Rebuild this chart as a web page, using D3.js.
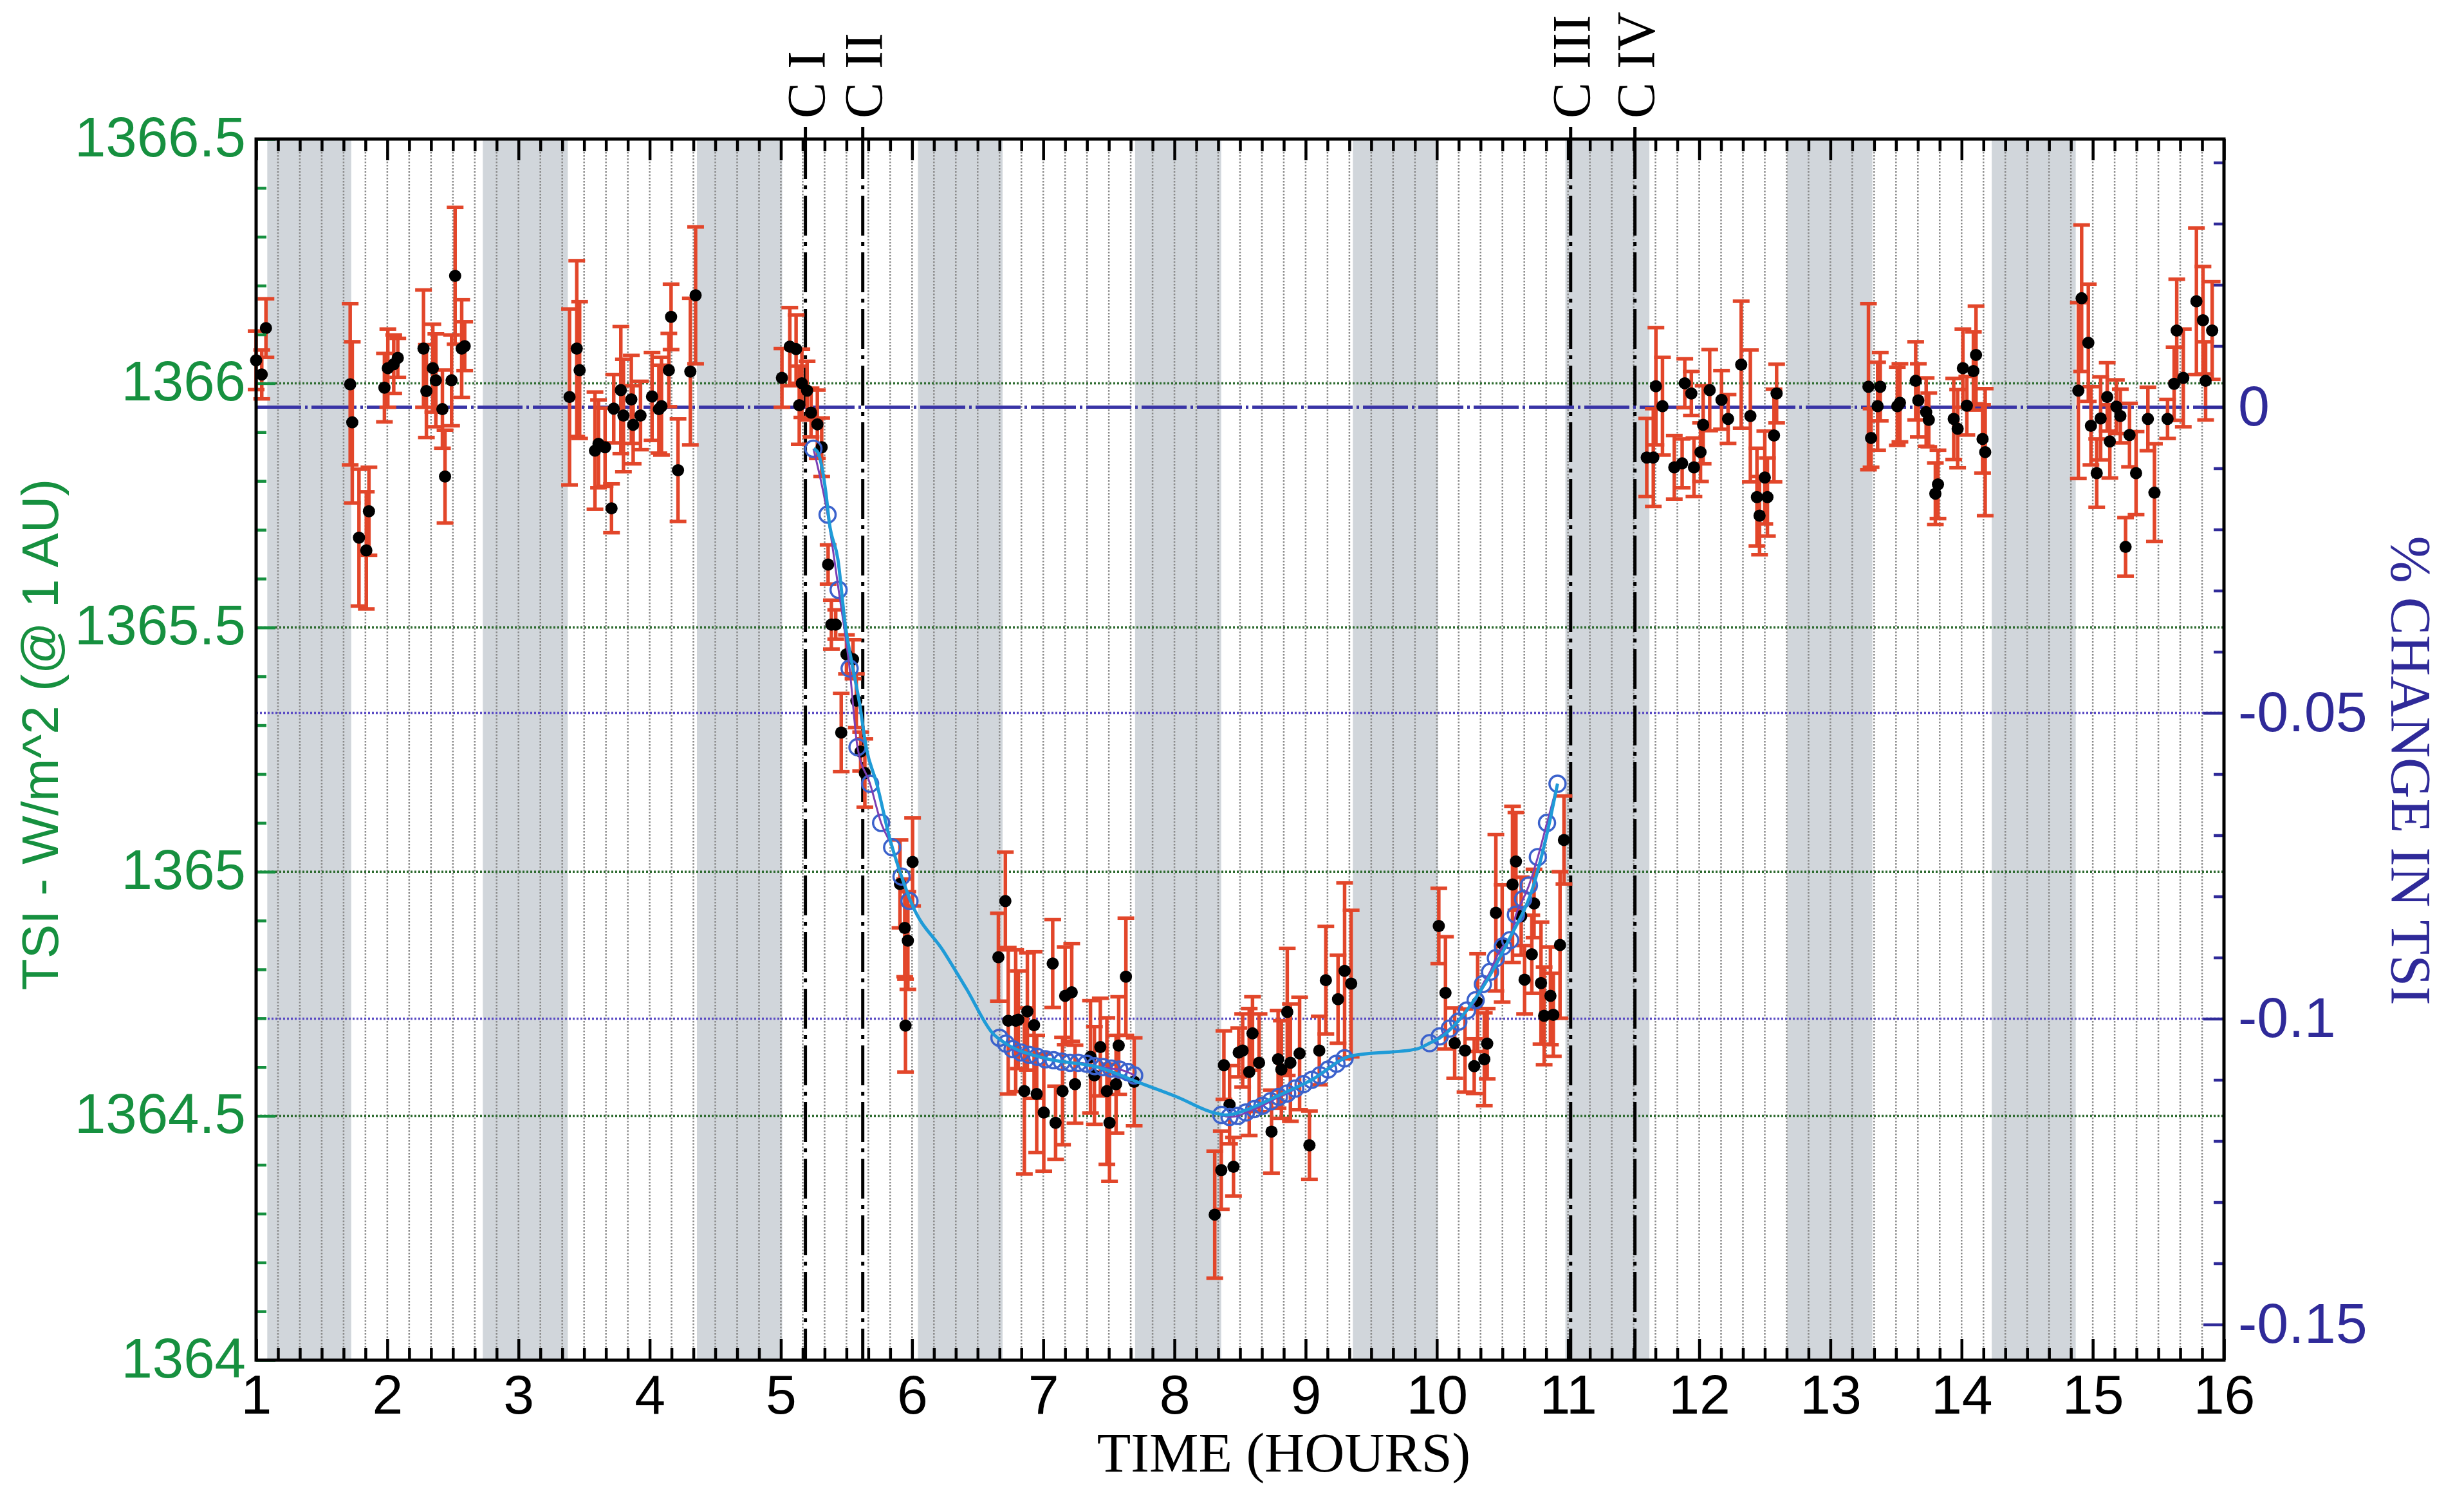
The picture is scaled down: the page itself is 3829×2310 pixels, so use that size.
<!DOCTYPE html>
<html><head><meta charset="utf-8">
<script src="https://cdn.jsdelivr.net/npm/d3@7"></script>
<style>html,body{margin:0;padding:0;background:#fff}</style>
</head><body>
<svg id="chart" width="3829" height="2310"></svg>
<script>
// ---------------- DATA ----------------
const obsHours = [
  1.00,1.043,1.075,
  1.717,1.733,1.784,1.84,1.86,1.978,2.004,2.049,2.08,2.276,2.298,2.347,2.37,2.42,2.44,2.49,2.517,2.567,2.59,
  3.389,3.444,3.466,3.583,3.61,3.66,3.709,3.726,3.78,3.80,3.86,3.874,3.93,4.018,4.07,4.09,4.146,4.163,4.216,4.31,4.35,
  5.008,5.068,5.116,5.14,5.16,5.20,5.23,5.278,5.311,
  5.36,5.385,5.418,5.46,5.50,5.55,5.575,5.608,5.64,5.908,5.944,5.95,5.968,6.004,
  6.658,6.711,6.733,6.79,6.81,6.856,6.879,6.93,6.95,7.004,7.072,7.094,7.147,7.167,7.217,7.242,7.36,7.39,7.435,7.485,7.505,7.555,7.575,7.63,7.693,
  8.307,8.357,8.377,8.42,8.45,8.49,8.52,8.57,8.595,8.645,8.74,8.79,8.815,8.86,8.884,8.954,9.029,9.104,9.154,9.247,9.297,9.347,
  10.015,10.066,10.136,10.215,10.285,10.311,10.362,10.384,10.45,10.498,10.577,10.603,10.643,10.669,10.724,10.741,10.794,10.818,10.866,10.888,10.939,10.969,
  11.6,11.65,11.67,11.72,11.81,11.87,11.89,11.94,11.96,12.01,12.03,12.08,12.17,12.22,12.32,12.39,12.44,12.46,12.50,12.52,12.57,12.59,
  13.29,13.31,13.36,13.38,13.51,13.53,13.65,13.67,13.73,13.75,13.80,13.82,13.94,13.97,14.01,14.04,14.09,14.11,14.16,14.18,
  14.89,14.915,14.966,14.986,15.03,15.06,15.11,15.13,15.18,15.21,15.25,15.28,15.33,15.42,15.47,15.57,15.62,15.64,15.69,15.79,15.84,15.86,15.91
];
const obsTSI = [
  1366.047,1366.018,1366.113,
  1365.998,1365.92,1365.684,1365.658,1365.738,1365.991,1366.031,1366.039,1366.052,1366.071,1365.984,1366.031,1366.006,1365.947,1365.809,1366.006,1366.22,1366.071,1366.076,
  1365.972,1366.071,1366.027,1365.862,1365.876,1365.869,1365.744,1365.948,1365.986,1365.934,1365.967,1365.915,1365.934,1365.973,1365.947,1365.953,1366.027,1366.136,1365.822,1366.024,1366.18,
  1366.011,1366.075,1366.07,1365.955,1366.0,1365.985,1365.94,1365.916,1365.869,
  1365.629,1365.506,1365.506,1365.285,1365.445,1365.435,1365.35,1365.246,1365.202,1364.975,1364.885,1364.685,1364.859,1365.02,
  1364.825,1364.94,1364.695,1364.695,1364.697,1364.551,1364.714,1364.686,1364.545,1364.507,1364.812,1364.486,1364.551,1364.746,1364.753,1364.565,1364.621,1364.583,1364.641,1364.551,1364.486,1364.565,1364.644,1364.785,1364.57,
  1364.298,1364.389,1364.604,1364.523,1364.396,1364.63,1364.634,1364.59,1364.669,1364.609,1364.468,1364.616,1364.595,1364.713,1364.609,1364.628,1364.44,1364.634,1364.778,1364.739,1364.797,1364.771,
  1364.889,1364.752,1364.649,1364.634,1364.602,1364.732,1364.616,1364.648,1364.916,1364.853,1364.974,1365.021,1364.909,1364.779,1364.831,1364.935,1364.772,1364.705,1364.746,1364.707,1364.85,1365.065,
  1365.848,1365.848,1365.994,1365.953,1365.828,1365.836,1366.0,1365.979,1365.828,1365.859,1365.915,1365.986,1365.966,1365.927,1366.038,1365.933,1365.767,1365.729,1365.807,1365.767,1365.893,1365.979,
  1365.993,1365.888,1365.953,1365.993,1365.953,1365.96,1366.005,1365.965,1365.941,1365.925,1365.774,1365.793,1365.927,1365.907,1366.031,1365.954,1366.025,1366.058,1365.886,1365.859,
  1365.985,1366.174,1366.083,1365.913,1365.816,1365.928,1365.972,1365.881,1365.952,1365.933,1365.665,1365.894,1365.816,1365.927,1365.776,1365.927,1365.999,1366.108,1366.011,1366.168,1366.129,1366.005,1366.108
];
const obsErr = [
  0.06,0.05,0.06,
  0.165,0.165,0.14,0.12,0.09,0.07,0.08,0.06,0.04,0.12,0.095,0.09,0.095,0.08,0.095,0.093,0.14,0.1,0.05,
  0.18,0.18,0.14,0.12,0.09,0.08,0.05,0.07,0.13,0.115,0.09,0.08,0.07,0.09,0.09,0.1,0.075,0.067,0.105,0.15,0.14,
  0.06,0.08,0.07,0.08,0.07,0.06,0.05,0.07,0.06,
  0.04,0.05,0.03,0.08,0.04,0.04,0.055,0.04,0.07,0.09,0.1,0.095,0.1,0.09,
  0.09,0.1,0.15,0.145,0.1,0.17,0.12,0.15,0.12,0.12,0.09,0.075,0.11,0.1,0.1,0.08,0.115,0.1,0.1,0.15,0.12,0.1,0.1,0.12,0.09,
  0.13,0.08,0.07,0.08,0.06,0.05,0.075,0.13,0.075,0.1,0.085,0.1,0.1,0.13,0.12,0.115,0.07,0.07,0.11,0.09,0.18,0.15,
  0.077,0.115,0.072,0.085,0.056,0.1,0.095,0.072,0.16,0.12,0.16,0.1,0.08,0.07,0.08,0.07,0.125,0.1,0.1,0.085,0.15,0.09,
  0.08,0.1,0.12,0.1,0.065,0.05,0.05,0.045,0.06,0.06,0.08,0.083,0.06,0.05,0.13,0.135,0.1,0.08,0.095,0.08,0.095,0.06,
  0.17,0.06,0.09,0.07,0.08,0.08,0.08,0.075,0.07,0.055,0.063,0.07,0.083,0.08,0.08,0.06,0.08,0.1,0.07,0.13,
  0.18,0.15,0.12,0.08,0.07,0.085,0.07,0.075,0.055,0.055,0.06,0.065,0.085,0.065,0.1,0.04,0.075,0.105,0.1,0.15,0.11,0.08,0.1
];
const modelHours = [5.25,5.278,5.344,5.369,5.435,5.492,5.542,5.6,5.65,5.732,5.83,5.92,6.0,6.24,6.415,6.615,6.716,7.016,7.417,7.743,8.019,8.295,8.395,8.545,8.77,9.047,9.347,9.846,9.945,10.024,10.3,10.548,10.745,10.833,10.92];
const modelTSI = [1365.866,1365.86,1365.774,1365.715,1365.639,1365.503,1365.426,1365.344,1365.255,1365.179,1365.068,1364.99,1364.933,1364.837,1364.76,1364.669,1364.648,1364.618,1364.6,1364.567,1364.539,1364.507,1364.502,1364.512,1364.539,1364.574,1364.623,1364.637,1364.649,1364.66,1364.743,1364.86,1364.979,1365.07,1365.18];
const circleHours = [5.248,5.356,5.44,5.524,5.584,5.68,5.764,5.848,5.92,5.98,
  6.666,6.716,6.766,6.829,6.891,6.954,7.016,7.079,7.142,7.204,7.267,7.33,7.392,7.455,7.518,7.58,7.643,7.693,
  8.357,8.42,8.483,8.545,8.608,8.671,8.733,8.796,8.859,8.921,8.984,9.047,9.109,9.172,9.235,9.297,
  9.945,10.022,10.099,10.164,10.23,10.296,10.351,10.406,10.45,10.504,10.559,10.603,10.658,10.702,10.77,10.84,10.92];
const circleTSI = [1365.866,1365.731,1365.577,1365.416,1365.255,1365.18,1365.1,1365.05,1364.99,1364.94,
  1364.660,1364.648,1364.637,1364.630,1364.625,1364.621,1364.616,1364.614,1364.611,1364.609,1364.609,1364.607,1364.602,1364.600,1364.597,1364.595,1364.590,1364.583,
  1364.502,1364.498,1364.500,1364.507,1364.514,1364.521,1364.530,1364.539,1364.546,1364.556,1364.565,1364.574,1364.583,1364.595,1364.607,1364.618,
  1364.649,1364.663,1364.679,1364.693,1364.716,1364.737,1364.770,1364.795,1364.823,1364.847,1364.860,1364.912,1364.944,1364.972,1365.03,1365.10,1365.18];
const nightStart = [1.085,2.728,4.36,6.045,7.70,9.36,10.98,12.67,14.23];
const nightEnd   = [1.725,3.376,5.01,6.69,8.356,10.01,11.62,13.32,14.87];
const contactLabels = ["C I","C II","C III","C IV"];
const contactHours = [5.187,5.624,11.02,11.51];
const xTickValues = [1,2,3,4,5,6,7,8,9,10,11,12,13,14,15,16];
const xTickLabels = ["1","2","3","4","5","6","7","8","9","10","11","12","13","14","15","16"];
const leftTickValues = [1364,1364.5,1365,1365.5,1366,1366.5];
const leftTickLabels = ["1364","1364.5","1365","1365.5","1366","1366.5"];
const rightTickValues = [0,-0.05,-0.1,-0.15];
const rightTickLabels = ["0","-0.05","-0.1","-0.15"];
const greenGridValues = [1364.5,1365,1365.5,1366];
const purpleGridValues = [-0.05,-0.1];

// ---------------- LAYOUT ----------------
const m = {left:398, right:3456, top:216, bottom:2113};
const x = d3.scaleLinear().domain([1,16]).range([m.left,m.right]);
const y = d3.scaleLinear().domain([1364,1366.5]).range([m.bottom,m.top]);
const yR = d3.scaleLinear().domain([-0.15584,0.04384]).range([m.bottom,m.top]);

const GREEN = "#16903f", BLUE = "#2f2a99", RED = "#e2462a";
const sans = "'Liberation Sans', Arial, Helvetica, sans-serif";
const serif = "'Liberation Serif', 'Times New Roman', serif";

const svg = d3.select("#chart");
svg.append("rect").attr("width",3829).attr("height",2310).attr("fill","#fff");

const plot = svg.append("g");
plot.selectAll("rect.band").data(nightStart.map((s,i)=>[s,nightEnd[i]])).join("rect")
  .attr("x",d=>x(d[0])).attr("width",d=>x(d[1])-x(d[0]))
  .attr("y",m.top).attr("height",m.bottom-m.top).attr("fill","#d1d6db");

const minorX = d3.range(0,91).map(i=>1+i/6);
plot.selectAll("line.vg").data(minorX).join("line")
  .attr("x1",d=>x(d)).attr("x2",d=>x(d)).attr("y1",m.top).attr("y2",m.bottom)
  .attr("stroke","#8a8a8a").attr("stroke-width",2.5).attr("stroke-dasharray","2.5,2.5");

plot.selectAll("line.gg").data(greenGridValues).join("line")
  .attr("x1",m.left).attr("x2",m.right).attr("y1",d=>y(d)).attr("y2",d=>y(d))
  .attr("stroke","#2e6b30").attr("stroke-width",3.5).attr("stroke-dasharray","3,3");
plot.selectAll("line.pg").data(purpleGridValues).join("line")
  .attr("x1",m.left).attr("x2",m.right).attr("y1",d=>yR(d)).attr("y2",d=>yR(d))
  .attr("stroke","#5a4bc4").attr("stroke-width",3.5).attr("stroke-dasharray","3,3");
plot.append("line").attr("x1",m.left).attr("x2",m.right).attr("y1",yR(0)).attr("y2",yR(0))
  .attr("stroke","#3934a6").attr("stroke-width",5).attr("stroke-dasharray","70,6,4,6");

contactHours.forEach((h,i)=>{
  plot.append("line").attr("x1",x(h)).attr("x2",x(h)).attr("y1",m.top).attr("y2",m.bottom)
    .attr("stroke","#000").attr("stroke-width",5).attr("stroke-dasharray","62,10,6,10");
  svg.append("line").attr("x1",x(h)).attr("x2",x(h)).attr("y1",m.top-19).attr("y2",m.top)
    .attr("stroke","#000").attr("stroke-width",5);
  svg.append("text").attr("transform",`translate(${x(h)},${m.top-32}) rotate(-90)`)
    .attr("dy","0.36em").attr("text-anchor","start")
    .attr("font-family",serif).attr("font-size",84).attr("fill","#000").text(contactLabels[i]);
});

const obs = obsHours.map((h,i)=>({h, v:obsTSI[i], e:obsErr[i]}));
const eb = plot.append("g").attr("stroke",RED).attr("stroke-width",5.5);
obs.forEach(d=>{
  const cx = x(d.h), y1 = y(d.v-d.e), y2 = y(d.v+d.e);
  eb.append("line").attr("x1",cx).attr("x2",cx).attr("y1",y1).attr("y2",y2);
  eb.append("line").attr("x1",cx-13).attr("x2",cx+13).attr("y1",y1).attr("y2",y1);
  eb.append("line").attr("x1",cx-13).attr("x2",cx+13).attr("y1",y2).attr("y2",y2);
});
plot.selectAll("circle.dot").data(obs).join("circle")
  .attr("cx",d=>x(d.h)).attr("cy",d=>y(d.v)).attr("r",9.5).attr("fill","#000");

const circ = circleHours.map((h,i)=>({h, v:circleTSI[i]}));
plot.selectAll("circle.mc").data(circ).join("circle")
  .attr("cx",d=>x(d.h)).attr("cy",d=>y(d.v)).attr("r",12.5)
  .attr("fill","none").attr("stroke","#3b62cc").attr("stroke-width",3.5);
const groups = []; let cur = [];
circ.forEach((d,i)=>{ if(i>0 && d.h-circ[i-1].h>0.2){groups.push(cur);cur=[];} cur.push(d); });
groups.push(cur);
const lineP = d3.line().x(d=>x(d.h)).y(d=>y(d.v)).curve(d3.curveMonotoneX);
groups.forEach(g=>plot.append("path").attr("d",lineP(g)).attr("fill","none")
  .attr("stroke","#7c3fb3").attr("stroke-width",3));
const model = modelHours.map((h,i)=>({h, v:modelTSI[i]}));
plot.append("path").attr("d",lineP(model)).attr("fill","none")
  .attr("stroke","#1f9bd7").attr("stroke-width",5);

// ---------------- AXES ----------------
function styleAxis(g,color,w){
  g.select(".domain").remove();
  g.selectAll(".tick line").attr("stroke",color).attr("stroke-width",w);
}
const minorXNoMajor = minorX.filter(d=>Math.abs(d-Math.round(d))>1e-6);
const gb = svg.append("g").attr("transform",`translate(0,${m.bottom})`);
gb.append("g").call(d3.axisBottom(x).tickValues(minorXNoMajor).tickSize(-19).tickFormat("")).call(g=>styleAxis(g,"#000",4.5));
gb.append("g").call(d3.axisBottom(x).tickValues(xTickValues).tickSize(-33).tickPadding(22)
    .tickFormat((d,i)=>xTickLabels[i])).call(g=>styleAxis(g,"#000",4.5))
  .call(g=>g.selectAll("text").attr("font-family",sans).attr("font-size",86).attr("fill","#000"));
const gt = svg.append("g").attr("transform",`translate(0,${m.top})`);
gt.append("g").call(d3.axisTop(x).tickValues(minorXNoMajor).tickSize(-19).tickFormat("")).call(g=>styleAxis(g,"#000",4.5));
gt.append("g").call(d3.axisTop(x).tickValues(xTickValues).tickSize(-33).tickFormat("")).call(g=>styleAxis(g,"#000",4.5));
const gl = svg.append("g").attr("transform",`translate(${m.left},0)`);
const minorL = d3.range(0,26).map(i=>1364+i*0.1).filter(d=>Math.abs(d*2-Math.round(d*2))>1e-6);
gl.append("g").call(d3.axisLeft(y).tickValues(minorL).tickSize(-16).tickFormat("")).call(g=>styleAxis(g,GREEN,4.5));
gl.append("g").call(d3.axisLeft(y).tickValues(leftTickValues).tickSize(-30).tickPadding(16)
    .tickFormat((d,i)=>leftTickLabels[i])).call(g=>styleAxis(g,GREEN,4.5))
  .call(g=>g.selectAll("text").attr("font-family",sans).attr("font-size",87).attr("fill",GREEN).attr("dy","0.3em"));
const gr = svg.append("g").attr("transform",`translate(${m.right},0)`);
const minorR = d3.range(-15,5).map(i=>i/100).filter(d=>Math.abs(d*20-Math.round(d*20))>1e-6);
gr.append("g").call(d3.axisRight(yR).tickValues(minorR).tickSize(-16).tickFormat("")).call(g=>styleAxis(g,BLUE,4.5));
gr.append("g").call(d3.axisRight(yR).tickValues(rightTickValues).tickSize(-32).tickPadding(22)
    .tickFormat((d,i)=>rightTickLabels[i])).call(g=>styleAxis(g,BLUE,4.5))
  .call(g=>g.selectAll("text").attr("font-family",sans).attr("font-size",88).attr("fill",BLUE));

svg.append("rect").attr("x",m.left).attr("y",m.top).attr("width",m.right-m.left).attr("height",m.bottom-m.top)
  .attr("fill","none").attr("stroke","#000").attr("stroke-width",5);

svg.append("text").attr("transform","translate(62,1141) rotate(-90)").attr("text-anchor","middle")
  .attr("dy","0.35em").attr("font-family",sans).attr("font-size",80).attr("fill",GREEN)
  .text("TSI - W/m^2 (@ 1 AU)");
svg.append("text").attr("transform","translate(3748,1197) rotate(90)").attr("text-anchor","middle")
  .attr("dy","0.35em").attr("font-family",serif).attr("font-size",88).attr("fill",BLUE)
  .text("% CHANGE IN TSI");
svg.append("text").attr("x",1995).attr("y",2286).attr("text-anchor","middle")
  .attr("font-family",serif).attr("font-size",86).attr("fill","#000").text("TIME (HOURS)");
</script>
</body></html>
